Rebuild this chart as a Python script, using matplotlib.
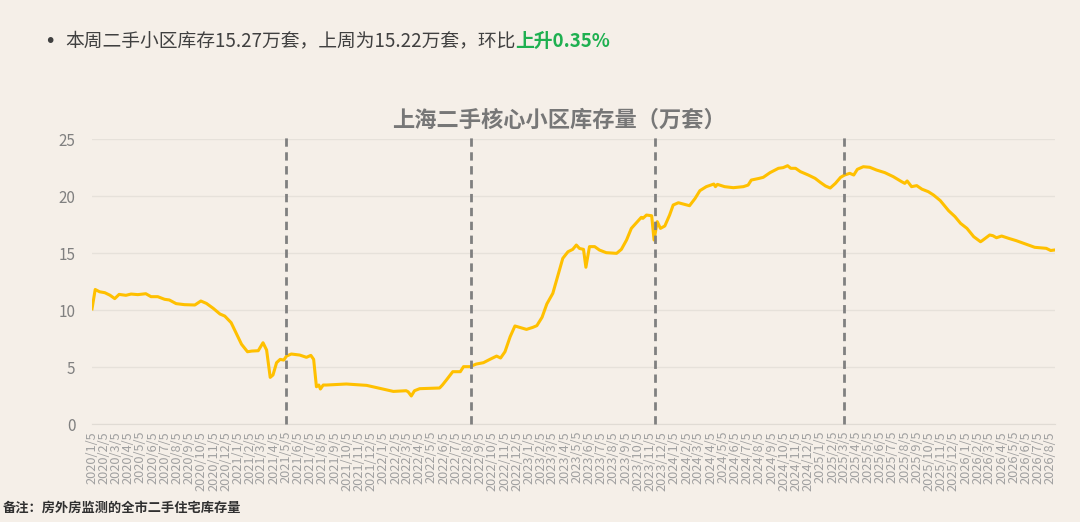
import pandas as pd
import numpy as np
from matplotlib import pyplot as plt

plt.rcParams["font.family"] = ["Noto Sans CJK SC", "DejaVu Sans"]

# weekly readings (dates, inventory in 10k units)
dates = [
    "2020-01-05", "2020-01-13", "2020-01-24", "2020-02-06", "2020-02-19", "2020-03-02",
    "2020-03-13", "2020-03-30", "2020-04-12", "2020-04-29", "2020-05-19", "2020-06-01",
    "2020-06-18", "2020-07-05", "2020-07-17", "2020-08-03", "2020-08-24", "2020-09-19",
    "2020-10-04", "2020-10-18", "2020-11-04", "2020-11-21", "2020-12-03", "2020-12-19",
    "2021-01-01", "2021-01-14", "2021-01-29", "2021-02-09", "2021-02-25", "2021-03-09",
    "2021-03-18", "2021-03-27", "2021-04-03", "2021-04-12", "2021-04-21", "2021-04-30",
    "2021-05-07", "2021-05-19", "2021-06-09", "2021-06-26", "2021-07-07", "2021-07-14",
    "2021-07-21", "2021-07-27", "2021-07-31", "2021-08-07", "2021-08-15", "2021-10-04",
    "2021-11-24", "2021-12-27", "2022-01-30", "2022-03-03", "2022-03-08", "2022-03-16",
    "2022-03-24", "2022-04-06", "2022-05-26", "2022-06-02", "2022-06-12", "2022-06-28",
    "2022-07-17", "2022-07-25", "2022-08-10", "2022-08-26", "2022-09-13", "2022-09-29",
    "2022-10-16", "2022-10-26", "2022-11-06", "2022-11-19", "2022-12-01", "2022-12-13",
    "2022-12-30", "2023-01-15", "2023-01-25", "2023-02-07", "2023-02-19", "2023-03-06",
    "2023-03-18", "2023-03-31", "2023-04-13", "2023-04-25", "2023-05-04", "2023-05-12",
    "2023-05-22", "2023-05-28", "2023-06-06", "2023-06-19", "2023-07-01", "2023-07-18",
    "2023-08-13", "2023-08-25", "2023-09-07", "2023-09-19", "2023-10-04", "2023-10-14",
    "2023-10-18", "2023-10-27", "2023-11-09", "2023-11-15", "2023-11-23", "2023-12-01",
    "2023-12-12", "2023-12-24", "2024-01-02", "2024-01-15", "2024-01-27", "2024-02-12",
    "2024-02-26", "2024-03-09", "2024-03-25", "2024-04-13", "2024-04-17", "2024-04-22",
    "2024-05-10", "2024-06-01", "2024-06-26", "2024-07-08", "2024-07-16", "2024-08-05",
    "2024-08-15", "2024-09-01", "2024-09-22", "2024-10-04", "2024-10-15", "2024-10-23",
    "2024-11-04", "2024-11-16", "2024-12-06", "2024-12-23", "2025-01-05", "2025-01-18",
    "2025-01-30", "2025-02-12", "2025-02-25", "2025-03-07", "2025-03-20", "2025-03-30",
    "2025-04-08", "2025-04-23", "2025-05-09", "2025-05-26", "2025-06-16", "2025-07-07",
    "2025-07-28", "2025-08-05", "2025-08-11", "2025-08-22", "2025-09-04", "2025-09-17",
    "2025-10-03", "2025-10-16", "2025-11-02", "2025-11-23", "2025-12-09", "2025-12-23",
    "2026-01-08", "2026-01-25", "2026-02-11", "2026-02-15", "2026-03-06", "2026-03-14",
    "2026-03-23", "2026-04-05", "2026-04-25", "2026-05-12", "2026-06-06", "2026-06-27",
    "2026-07-26", "2026-08-06", "2026-08-17",
]
stock = [
    10.1, 11.8, 11.6, 11.52, 11.3, 11.0,
    11.37, 11.29, 11.4, 11.35, 11.43, 11.17,
    11.17, 10.94, 10.88, 10.56, 10.47, 10.44,
    10.79, 10.58, 10.15, 9.65, 9.47, 8.89,
    7.95, 7.0, 6.34, 6.4, 6.43, 7.13,
    6.49, 4.09, 4.3, 5.38, 5.67, 5.61,
    5.96, 6.14, 6.05, 5.85, 6.02, 5.67,
    3.27, 3.42, 3.07, 3.42, 3.42, 3.51,
    3.39, 3.13, 2.86, 2.92, 2.83, 2.46,
    2.92, 3.1, 3.16, 3.42, 3.86, 4.59,
    4.59, 5.03, 5.03, 5.26, 5.38, 5.67,
    5.96, 5.79, 6.34, 7.66, 8.6, 8.48,
    8.3, 8.48, 8.63, 9.36, 10.53, 11.46,
    12.92, 14.53, 15.11, 15.32, 15.7, 15.4,
    15.32, 13.75, 15.56, 15.56, 15.26, 15.03,
    14.97, 15.32, 16.14, 17.16, 17.75, 18.13,
    18.04, 18.33, 18.27, 16.14, 17.75, 17.16,
    17.37, 18.33, 19.21, 19.41, 19.3, 19.15,
    19.79, 20.47, 20.82, 21.05, 20.82, 21.02,
    20.82, 20.73, 20.82, 20.96, 21.4, 21.55,
    21.64, 22.05, 22.43, 22.49, 22.66, 22.43,
    22.43, 22.14, 21.84, 21.55, 21.2, 20.88,
    20.7, 21.11, 21.64, 21.84, 21.99, 21.84,
    22.34, 22.57, 22.52, 22.28, 22.05, 21.7,
    21.26, 21.11, 21.32, 20.82, 20.91, 20.6,
    20.38, 20.09, 19.6, 18.71, 18.19, 17.6,
    17.16, 16.43, 15.99, 16.08, 16.58, 16.52,
    16.34, 16.49, 16.26, 16.08, 15.76, 15.5,
    15.41, 15.22, 15.27,
]
# policy markers
marker_dates = ["2021-05-05", "2022-08-12", "2023-11-18", "2025-03-06"]

title = "上海二手核心小区库存量（万套）"
headline = "本周二手小区库存15.27万套，上周为15.22万套，环比"
headline_hl = "上升0.35%"
note = "备注：房外房监测的全市二手住宅库存量"

bg = "#f5efe8"
x = pd.to_datetime(dates)
ticks = pd.date_range("2020-01-01", "2026-08-01", freq="MS") + pd.Timedelta(days=4)
tick_labels = [f"{d.year}/{d.month}/5" for d in ticks]

fig = plt.figure(figsize=(10.8, 5.22), dpi=100, facecolor=bg)
ax = fig.add_axes([0.0852, 0.1877, 0.8917, 0.546])
ax.set_facecolor(bg)

ax.plot(x, stock, color="#ffc000", lw=2.2, solid_joinstyle="round", zorder=3)
for d in marker_dates:
    ax.plot([pd.Timestamp(d)] * 2, [0, 25.4], color="#808080", lw=2,
            ls=(0, (3, 2)), clip_on=False, zorder=4)

ax.set_xlim(pd.Timestamp("2020-01-05"), pd.Timestamp("2026-08-17"))
ax.set_ylim(0, 25)
ax.set_yticks([0, 5, 10, 15, 20, 25])
ax.set_xticks(ticks)
ax.set_xticklabels(tick_labels, rotation=90, fontsize=9.2, color="#a0a0a0")
ax.tick_params(axis="both", length=0)
ax.tick_params(axis="y", labelsize=11, labelcolor="#808080", pad=12)
ax.tick_params(axis="x", pad=5)
ax.grid(axis="y", color="#e6e1da", lw=1)
for s in ["top", "right", "left"]:
    ax.spines[s].set_visible(False)
ax.spines["bottom"].set_color("#e0dbd4")

fig.text(0.518, 0.77, title, ha="center", va="center", fontsize=16,
         fontweight="bold", color="#777777")

fig.text(0.041, 0.921, "•", ha="left", va="center", fontsize=14,
         color="#404040", family="DejaVu Sans")
t = fig.text(0.060, 0.921, headline, ha="left", va="center", fontsize=13.5,
             color="#404040")
fig.canvas.draw()
bb = t.get_window_extent()
fig.text(bb.x1 / fig.bbox.width, 0.921, headline_hl, ha="left", va="center",
         fontsize=13.5, fontweight="bold", color="#1eb050")

fig.text(0.003, 0.028, note, ha="left", va="center", fontsize=9.5,
         fontweight="bold", color="#303030")

fig.savefig("out.png", dpi=100, facecolor=bg)
